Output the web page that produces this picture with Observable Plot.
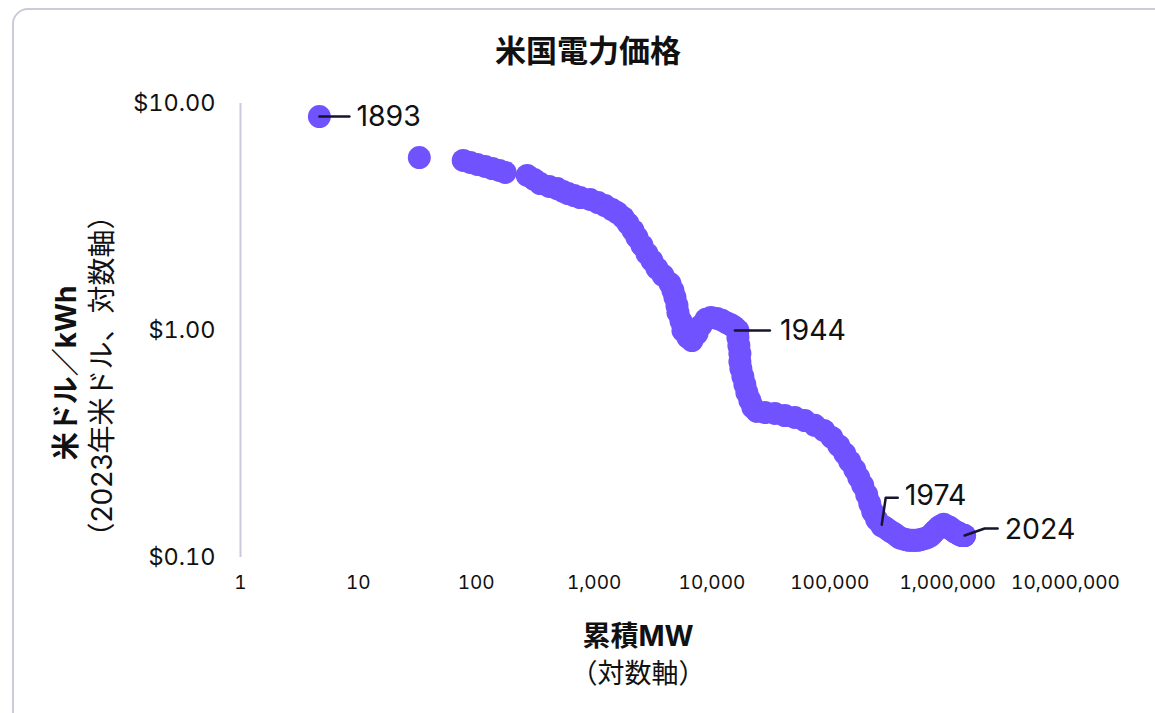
<!DOCTYPE html>
<html><head><meta charset="utf-8">
<script src="https://cdn.jsdelivr.net/npm/d3@7"></script>
<script src="https://cdn.jsdelivr.net/npm/@observablehq/plot@0.6"></script>
<style>
body{margin:0;background:#fff;font-family:Inter,"Noto Sans CJK JP",sans-serif;color:#111;}
#wrap{position:relative;width:1155px;height:713px;overflow:hidden;}
#card{position:absolute;left:12px;top:8px;width:1175px;height:740px;border:2px solid #cbcbdb;border-radius:16px;box-sizing:border-box;background:#fff;}
.t{position:absolute;white-space:nowrap;line-height:1;transform:translate(-50%,-50%);}
#chart{position:absolute;left:0;top:0;}
</style></head>
<body>
<div id="wrap">
<div id="card"></div>
<div id="chart"></div>
<div class="t" style="left:588px;top:48px;font-size:31px;font-weight:700;font-family:'Noto Sans CJK JP',sans-serif;">米国電力価格</div>
<div class="t" style="left:638px;top:636px;font-size:28px;font-weight:700;font-family:Inter,'Noto Sans CJK JP';">累積MW</div>
<div class="t" style="left:638px;top:671px;font-size:27px;font-family:'Noto Sans CJK JP';">（対数軸）</div>
<div class="t" style="left:66px;top:373px;font-size:28px;font-weight:700;transform:translate(-50%,-50%) rotate(-90deg);font-family:Inter,'Noto Sans CJK JP';">米ドル／kWh</div>
<div class="t" style="left:102px;top:376px;font-size:28px;transform:translate(-50%,-50%) rotate(-90deg);font-family:Inter,'Noto Sans CJK JP';">（2023年米ドル、対数軸）</div>
</div>
<script>
const years = d3.range(1893, 2025);
const cumulativeMW = [
 4.67, 32.9, 77.6, 89.0, 102, 119, 137, 157, 176, 271,
 310, 349, 416, 486, 546, 602, 677, 761, 925, 1081,
 1239, 1421, 1566, 1761, 1941, 2140, 2314, 2551, 2813, 3101,
 3419, 3843, 4407, 4671, 4858, 5051, 5151, 5462, 5678, 6260,
 6767, 7463, 8069, 8898, 9806, 11030, 12150, 13400, 14490, 15360,
 15970, 16610, 16610, 16930, 17270, 17270, 17610, 18310, 19040, 19800,
 20990, 22260, 24070, 28130, 34190, 41550, 50510, 61400, 74630, 88970,
 103970, 119200, 134000, 147700, 162900, 176100, 190400, 205900, 218300, 231400,
 250200, 275900, 292500, 310000, 328800, 348600, 369700, 392000, 415600, 440700,
 467200, 495400, 525300, 556900, 590500, 626100, 663800, 703800, 731700, 760800,
 791000, 822600, 855300, 889400, 924800, 961800, 1000000, 1040000, 1060000, 1081000,
 1103000, 1124000, 1146000, 1158000, 1169000, 1192000, 1204000, 1215000, 1227000, 1239000,
 1252000, 1264000, 1276000, 1289000, 1302000, 1314000, 1327000, 1340000, 1353000, 1366000,
 1380000, 1394000
];
const pricePerKWh = [
 8.76, 5.78, 5.61, 5.50, 5.39, 5.28, 5.17, 5.07, 4.97, 4.82,
 4.63, 4.44, 4.31, 4.22, 4.10, 4.01, 3.93, 3.85, 3.78, 3.66,
 3.55, 3.41, 3.31, 3.15, 2.96, 2.76, 2.57, 2.37, 2.18, 2.03,
 1.88, 1.75, 1.61, 1.50, 1.40, 1.29, 1.20, 1.10, 1.00, 0.932,
 0.903, 0.970, 1.05, 1.12, 1.14, 1.13, 1.11, 1.08, 1.06, 1.04,
 1.02, 1.00, 0.932, 0.859, 0.792, 0.730, 0.680, 0.627, 0.578, 0.533,
 0.492, 0.458, 0.440, 0.435, 0.431, 0.422, 0.414, 0.401, 0.382, 0.363,
 0.338, 0.311, 0.287, 0.265, 0.244, 0.225, 0.208, 0.189, 0.173, 0.159,
 0.147, 0.138, 0.136, 0.133, 0.130, 0.128, 0.125, 0.122, 0.121, 0.120,
 0.119, 0.119, 0.119, 0.119, 0.120, 0.121, 0.122, 0.124, 0.126, 0.129,
 0.132, 0.134, 0.137, 0.138, 0.140, 0.138, 0.137, 0.136, 0.134, 0.133,
 0.132, 0.132, 0.130, 0.130, 0.129, 0.129, 0.129, 0.128, 0.128, 0.128,
 0.128, 0.126, 0.126, 0.126, 0.126, 0.126, 0.125, 0.125, 0.125, 0.125,
 0.125, 0.125
];
const labelYears = [1893, 1944, 1974, 2024];
const xTicks = [1, 10, 100, 1000, 10000, 100000, 1000000, 10000000];
const yTicks = [0.1, 1, 10];

const data = years.map((year, i) => ({year, mw: cumulativeMW[i], price: pricePerKWh[i]}));
const labels = labelYears.map(y => data.find(d => d.year === y));

// leader-line shapes (pixel offsets relative to the labelled dot) and text offsets
const leaderStyle = {
  1893: {path: [[0,0],[30,0]], dx: 37, dy: 0},
  1944: {path: [[-3,0],[32,0]], dx: 42, dy: 0},
  1974: {path: [[0,-1],[4,-28],[16,-28]], dx: 23, dy: -30},
  2024: {path: [[0,0],[20,-7],[33,-7]], dx: 40, dy: -6}
};
const ink = "#15152e";
const leaderMarks = labels.flatMap(d => {
  const s = leaderStyle[d.year];
  return [
    Plot.vector([d], {x: "mw", y: "price", length: 1, anchor: "start", stroke: ink, strokeWidth: 2.5,
      shape: {draw(ctx) { ctx.moveTo(...s.path[0]); s.path.slice(1).forEach(p => ctx.lineTo(...p)); }}}),
    Plot.text([d], {x: "mw", y: "price", text: d => String(d.year), dx: s.dx, dy: s.dy, textAnchor: "start", fontSize: 28.5, fill: "#111"})
  ];
});

const chart = Plot.plot({
  width: 1155, height: 713,
  marginLeft: 240, marginRight: 90, marginTop: 103, marginBottom: 156,
  style: {fontFamily: "Inter, 'Noto Sans CJK JP', sans-serif", color: "#111", background: "transparent", overflow: "visible"},
  x: {type: "log", domain: [1, 1e7]},
  y: {type: "log", domain: [0.1, 10]},
  marks: [
    Plot.ruleX([1], {stroke: "#c9cadb", strokeWidth: 2}),
    Plot.axisY({ticks: yTicks, tickSize: 0, tickPadding: 25, tickFormat: d => "$" + d.toFixed(2), fontSize: 23.5, label: null}),
    Plot.axisX({ticks: xTicks, tickSize: 0, tickPadding: 18, tickFormat: d3.format(","), fontSize: 19, label: null}),
    Plot.dot(data, {x: "mw", y: "price", r: 11.5, fill: "#7152ff"}),
    ...leaderMarks
  ]
});
document.getElementById("chart").append(chart);
</script>
</body></html>
